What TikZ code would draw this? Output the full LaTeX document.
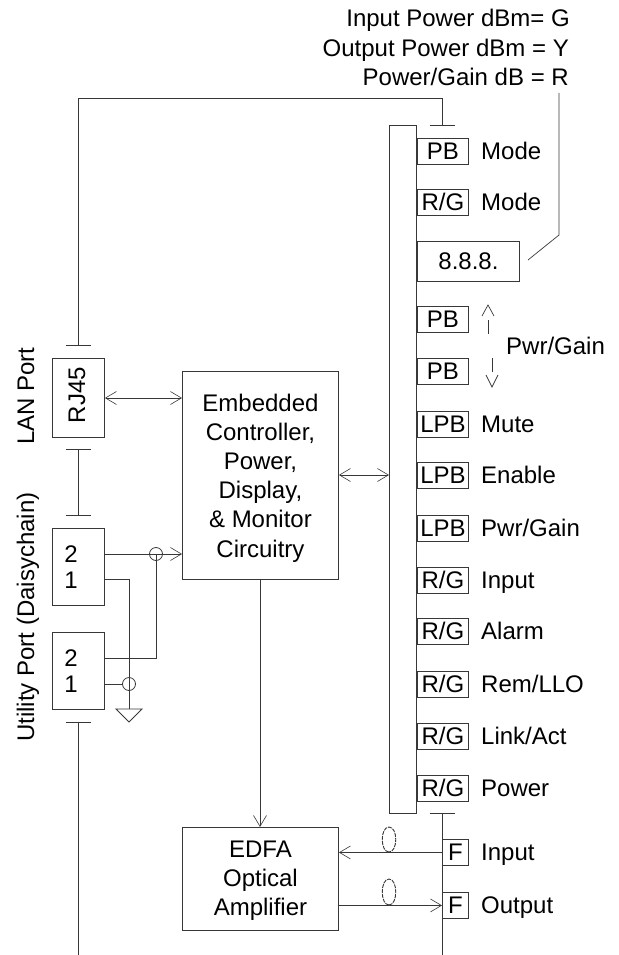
\documentclass[tikz,border=0pt]{standalone}
\usepackage{fontspec}
\setmainfont{Liberation Sans}
\usetikzlibrary{arrows.meta,positioning,calc}
\definecolor{EdfaInk}{HTML}{383838}
\tikzset{
  every node/.style={text=black,font=\fontsize{24}{29.2}\selectfont,inner sep=0pt},
  wire/.style={EdfaInk,line width=0.9pt},
  openarrow/.style={wire,{Straight Barb[length=11pt,width=13pt,line width=0.6pt]}-{Straight Barb[length=11pt,width=13pt,line width=0.6pt]}},
  toarrow/.style={wire,-{Straight Barb[length=11pt,width=13pt,line width=0.6pt]}},
  hopring/.style={wire,line width=0.8pt},
  fibreloop/.style={wire,dash pattern=on 4pt off 1pt},
  unit/.style={draw=EdfaInk,line width=0.9pt,anchor=north west},
  boxtext/.style={text height=17pt,text depth=0pt},
  ledbox/.style={unit,boxtext,minimum width=51pt,minimum height=26pt},
  ledname/.style={boxtext,anchor=west},
}
\begin{document}
\begin{tikzpicture}[x=1pt,y=-1pt]
        \useasboundingbox (0,0) rectangle (618,955);
        % main blocks
        \node[unit,minimum width=156pt,minimum height=208pt] (ctrl) at (182,371) {};
        \node[align=center,yshift=-2.5pt] (ctrltext) at (ctrl) {Embedded\\Controller,\\Power,\\Display,\\\& Monitor\\Circuitry};
        \node[unit,minimum width=156pt,minimum height=103pt] (edfa) at (182,827) {};
        \node[align=center,yshift=-1.5pt] (edfatext) at (edfa) {EDFA\\Optical\\Amplifier};
        \node[unit,minimum width=27pt,minimum height=688pt] (bus) at (389,125) {};
        % ports on the left
        \node[unit,minimum width=52pt,minimum height=79pt] (rj) at (52,358) {};
        \node[rotate=90] (rjtext) at (77,395) {RJ45};
        \node[unit,minimum width=52pt,minimum height=77pt] (utila) at (52,528) {};
        \node[unit,minimum width=52pt,minimum height=77pt] (utilb) at (52,632) {};
        \node[boxtext] (utilatwo) at (71,554) {2};
        \node[boxtext] (utilaone) at (71,580) {1};
        \node[boxtext] (utilbtwo) at (71,658) {2};
        \node[boxtext] (utilbone) at (71,684) {1};
        \node[rotate=90] (lan) at (26,396) {LAN Port};
        \node[rotate=90] (util) at (28,617) {Utility Port (Daisychain)};
        % panel column
        \foreach \nm/\ypos/\txt/\lbl in {pbm/138/PB/Mode,rgm/189/R\slash G/Mode,lmute/411/LPB/Mute,lena/462/LPB/Enable,lpwr/515/LPB/Pwr\slash Gain,rgi/567/R\slash G/Input,rga/618/R\slash G/Alarm,rgr/671/R\slash G/Rem\slash LLO,rgl/723/R\slash G/Link\slash Act,rgp/775/R\slash G/Power}{
          \node[ledbox] (\nm) at (417,\ypos) {\txt};
          \node[ledname] (\nm t) at (481,\ypos+13) {\lbl};
        }
        \node[ledbox] (pbup) at (417,306) {PB};
        \node[ledbox] (pbdn) at (417,358) {PB};
        \node[ledname] (pwr) at (506,346) {Pwr/Gain};
        \node[unit,boxtext,minimum width=102pt,minimum height=40pt] (disp) at (417,241) {8.8.8.};
        \node[ledbox,minimum width=26pt] (fin) at (442,839) {F};
        \node[ledbox,minimum width=26pt] (fout) at (442,892) {F};
        \node[ledname] (int) at (481,852) {Input};
        \node[ledname] (outt) at (481,905) {Output};
        % display legend
        \node[boxtext,anchor=east] (legg) at (570,18) {Input Power dBm= G};
        \node[boxtext,anchor=east] (legy) at (569,48) {Output Power dBm = Y};
        \node[boxtext,anchor=east] (legr) at (569,77) {Power/Gain dB = R};
        % connectors
        \coordinate (lantop) at (78,345);
        \coordinate (panelbar) at (442,125);
        \coordinate (lanlow) at (78,449);
        \coordinate (utilbar) at (78,515);
        \coordinate (utillow) at (78,722);
        \coordinate (botleft) at (78,955);
        \coordinate (fibrebar) at (442,813);
        \coordinate (botright) at (442,955);
        \coordinate (gnd) at (129,709);
        \coordinate (hopa) at (156,554);
        \coordinate (hopb) at (129,684);
        \draw[wire] (lantop) -- (78,98) -- (442,98) -- (panelbar);
        \draw[wire] (lanlow) -- (utilbar);
        \draw[wire] (utillow) -- (botleft);
        \draw[wire] (fibrebar) -- (botright);
        \foreach \barend in {lantop,lanlow,utilbar,utillow,panelbar,fibrebar}
          \draw[wire] ($(\barend)+(-12.5,0)$) -- ($(\barend)+(12.5,0)$);
        \draw[openarrow] (rj.east|-0,398) -- (ctrl.west|-0,398);
        \draw[openarrow] (ctrl.east|-0,475) -- (bus.west|-0,475);
        \draw[toarrow] (utila.east|-hopa) -- (ctrl.west|-hopa);
        \draw[wire] (utila.east|-0,579) -| (gnd);
        \draw[wire] (utilb.east|-0,658) -| (hopa);
        \draw[wire] (utilb.east|-hopb) -- ($(hopb)+(-6,0)$);
        \draw[hopring] (hopa) circle (6.5pt) (hopb) circle (6.5pt);
        \draw[wire] ($(gnd)+(-13,0)$) -- ($(gnd)+(13,0)$) -- ($(gnd)+(0,13)$) -- cycle;
        \draw[toarrow] (ctrl.south-|260,0) -- (edfa.north-|260,0);
        \draw[toarrow] (fin.west) -- (edfa.east|-fin);
        \draw[toarrow] (edfa.east|-fout) -- (fout.west);
        \draw[fibreloop] (389,852) .. controls (380,852) and (380,827) .. (389,827) .. controls (398,827) and (398,852) .. (389,852);
        \draw[fibreloop] (389,905) .. controls (380,905) and (380,879) .. (389,879) .. controls (398,879) and (398,905) .. (389,905);
        % display lead and the two small arrows
        \draw[wire,line width=0.7pt] (528,260) -- (559,235) -- (559,93);
        \draw[wire] (488,320) -- (488,334);
        \draw[wire,line width=0.7pt] (482,316) -- (488,305) -- (494,316);
        \draw[wire] (492,358) -- (492,372);
        \draw[wire,line width=0.7pt] (486,375) -- (492,387) -- (498,375);
      \end{tikzpicture}
\end{document}
